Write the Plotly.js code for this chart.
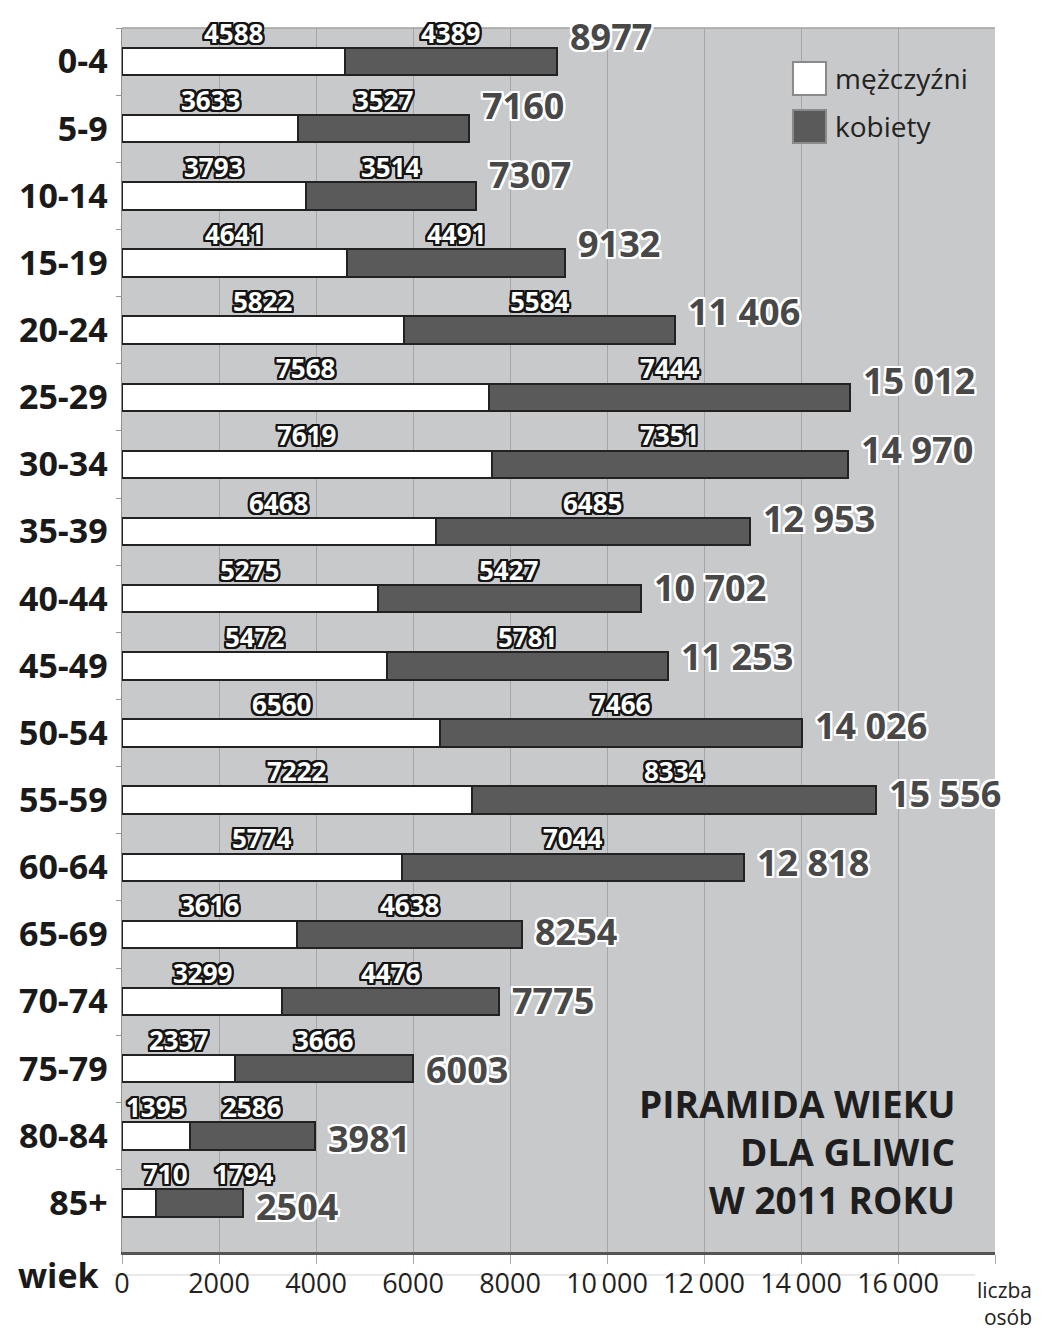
<!DOCTYPE html>
<html>
<head>
<meta charset="utf-8">
<script src="https://cdn.plot.ly/plotly-3.0.1.min.js"></script>
<style>html,body{margin:0;padding:0;background:#fff}#chart{width:1050px;height:1335px}</style>
</head>
<body>
<div id="chart"></div>
<script>
const ageGroups = ["0-4","5-9","10-14","15-19","20-24","25-29","30-34","35-39","40-44","45-49","50-54","55-59","60-64","65-69","70-74","75-79","80-84","85+"];
const men   = [4588,3633,3793,4641,5822,7568,7619,6468,5275,5472,6560,7222,5774,3616,3299,2337,1395,710];
const women = [4389,3527,3514,4491,5584,7444,7351,6485,5427,5781,7466,8334,7044,4638,4476,3666,2586,1794];
const totals = [8977,7160,7307,9132,11406,15012,14970,12953,10702,11253,14026,15556,12818,8254,7775,6003,3981,2504];
const xTicks = [0,2000,4000,6000,8000,10000,12000,14000,16000,18000];
const xTickText = ["0","2000","4000","6000","8000","10\u2009000","12\u2009000","14\u2009000","16\u2009000",""];
const seriesNames = ["mężczyźni","kobiety"];
const titleLines = ["PIRAMIDA WIEKU","DLA GLIWIC","W 2011 ROKU"];

const FONT = "Open Sans, Liberation Sans, sans-serif";
function outline(c, w){
  const s=[];
  for (let dx=-w; dx<=w; dx++) for (let dy=-w; dy<=w; dy++) if (dx||dy) s.push(dx+"px "+dy+"px 0 "+c);
  return s.join(", ");
}
function fmt(n){
  const s=String(n);
  return n>=10000 ? s.slice(0,s.length-3)+"\u00a0"+s.slice(-3) : s;
}

const traces = [
  {type:"bar", orientation:"h", name:seriesNames[0], y:ageGroups, x:men,
   marker:{color:"#ffffff", line:{color:"#222222", width:2}}, hoverinfo:"none"},
  {type:"bar", orientation:"h", name:seriesNames[1], y:ageGroups, x:women,
   marker:{color:"#5a5a5a", line:{color:"#222222", width:2}}, hoverinfo:"none"}
];

const annotations = [];
ageGroups.forEach((g,i)=>{
  const narrow = men[i] < 1000;
  annotations.push({x:men[i]/2, y:g, xref:"x", yref:"y", text:String(men[i]), showarrow:false,
    yshift:29, xshift: narrow ? 26 : 0,
    font:{family:FONT, size:26, weight:700, color:"#ffffff", shadow:outline("#141414",2)}});
  annotations.push({x:men[i]+women[i]/2, y:g, xref:"x", yref:"y", text:String(women[i]), showarrow:false,
    yshift:29, xshift: narrow ? 44 : 0,
    font:{family:FONT, size:26, weight:700, color:"#ffffff", shadow:outline("#141414",2)}});
  annotations.push({x:totals[i], y:g, xref:"x", yref:"y", text:fmt(totals[i]), showarrow:false,
    xanchor:"left", xshift:11, yshift:25-1.7*i,
    font:{family:FONT, size:36, weight:700, color:"#484848", shadow:outline("#ffffff",2)}});
});

const titleY = [0.1217,0.0817,0.0425];
titleLines.forEach((t,k)=>{
  annotations.push({xref:"paper", yref:"paper", x:0.956, y:titleY[k], xanchor:"right", yanchor:"middle",
    text:t, showarrow:false, font:{family:FONT, size:37, weight:700, color:"#1e1e1e"}});
});
// legend texts
annotations.push({xref:"paper", yref:"paper", x:0.8150, y:0.9591, xanchor:"left", yanchor:"middle",
  text:seriesNames[0], showarrow:false, font:{family:FONT, size:28, color:"#222"}});
annotations.push({xref:"paper", yref:"paper", x:0.8150, y:0.9199, xanchor:"left", yanchor:"middle",
  text:seriesNames[1], showarrow:false, font:{family:FONT, size:28, color:"#222"}});
// axis captions
annotations.push({xref:"paper", yref:"paper", x:-0.121, y:-0.0188, xanchor:"left", yanchor:"middle",
  text:"wiek", showarrow:false, font:{family:FONT, size:34, weight:700, color:"#1a1a1a"}});
annotations.push({xref:"paper", yref:"paper", x:1.0445, y:-0.0665, xanchor:"right", yanchor:"bottom",
  align:"right", text:"liczba<br>osób", showarrow:false, font:{family:FONT, size:21, color:"#222"}});

const shapes = [
  {type:"rect", xref:"paper", yref:"paper", x0:0.7686, x1:0.8064, y0:0.9453, y1:0.9722,
   fillcolor:"#ffffff", line:{color:"#8a8a8a", width:2}},
  {type:"rect", xref:"paper", yref:"paper", x0:0.7686, x1:0.8064, y0:0.9060, y1:0.9330,
   fillcolor:"#5a5a5a", line:{color:"#8a8a8a", width:2}},
  {type:"line", xref:"paper", yref:"paper", x0:0, x1:1, y0:1, y1:1, line:{color:"#a0a0a0", width:1.5}},
  {type:"line", xref:"paper", yref:"paper", x0:-0.0115, x1:0.977, y0:-0.0188, y1:-0.0188, layer:"below",
   line:{color:"#d4d4d4", width:1}}
];

const layout = {
  width:1050, height:1335,
  margin:{l:122, r:55, t:28, b:83},
  paper_bgcolor:"#ffffff", plot_bgcolor:"#c8c9cb",
  barmode:"stack", bargap:0.59, showlegend:false,
  xaxis:{range:[0,18000], tickvals:xTicks, ticktext:xTickText, showgrid:true, gridcolor:"#a5a6a8", gridwidth:1,
    zeroline:false, showline:true, linecolor:"#555555", linewidth:2.5, ticks:"outside", ticklen:9,
    tickcolor:"#aaaaaa", ticklabelstandoff:-3, tickfont:{family:FONT, size:27, color:"#222"}, fixedrange:true},
  yaxis:{type:"category", autorange:"reversed", showgrid:false, zeroline:false, showline:true,
    linecolor:"#8f8f8f", linewidth:1.5, ticks:"outside", tickson:"boundaries", ticklen:5, tickcolor:"#999",
    ticklabelstandoff:6, tickfont:{family:FONT, size:34, weight:700, color:"#1a1a1a"}, fixedrange:true},
  annotations:annotations, shapes:shapes
};

Plotly.newPlot("chart", traces, layout, {displayModeBar:false, staticPlot:true});
</script>
</body>
</html>
